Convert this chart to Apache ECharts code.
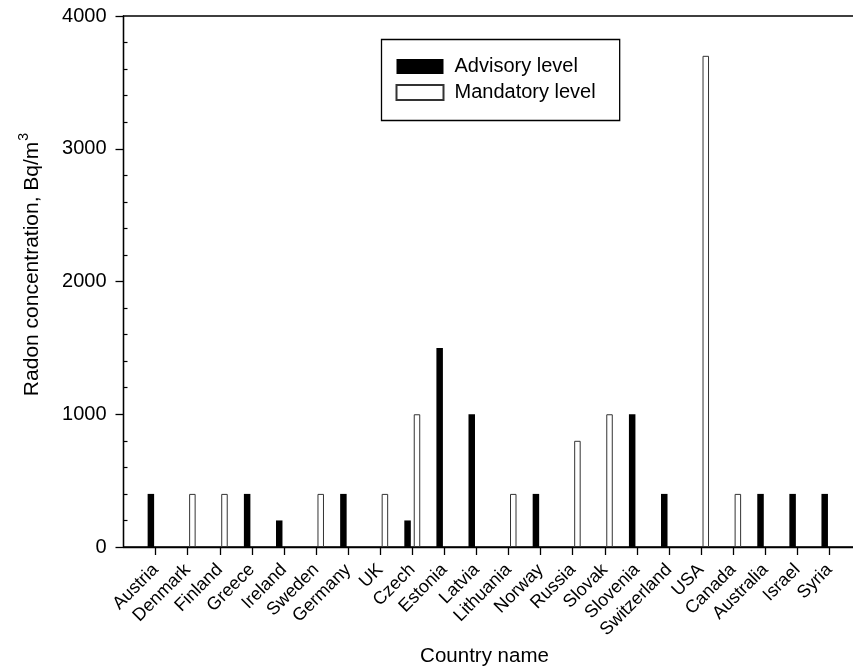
<!DOCTYPE html>
<html>
<head>
<meta charset="utf-8">
<script src="https://cdn.jsdelivr.net/npm/echarts@6/dist/echarts.min.js"></script>
<style>
html,body{margin:0;padding:0;background:#fff;}
#chart{width:853px;height:668px;}
</style>
</head>
<body>
<div id="chart"></div>
<script>
var countries = ['Austria','Denmark','Finland','Greece','Ireland','Sweden','Germany','UK','Czech','Estonia','Latvia','Lithuania','Norway','Russia','Slovak','Slovenia','Switzerland','USA','Canada','Australia','Israel','Syria'];
var advisory  = [400, null, null, 400, 200, null, 400, null, 200, 1500, 1000, null, 400, null, null, 1000, 400, null, null, 400, 400, 400];
var mandatory = [null, 400, 400, null, null, 400, null, 400, 1000, null, null, 400, null, 800, 1000, null, null, 3700, 400, null, null, null];
var yTicks = [0, 1000, 2000, 3000, 4000];

var FONT = '"Liberation Sans", Arial, Helvetica, sans-serif';
// pad with empty slots so the first/last categories sit one step in from the axis ends
var cats = [''].concat(countries, ['']);
var advData = [null].concat(advisory, [null]);
var manData = [null].concat(mandatory, [null]);

var GRID_W = 738;
var chart = echarts.init(document.getElementById('chart'));
chart.setOption({
  animation: false,
  backgroundColor: '#fff',
  textStyle: {fontFamily: FONT, color: '#000'},
  grid: {left: 123.5, top: 16, width: GRID_W, height: 531, outerBoundsMode: 'none', containLabel: false,
         show: true, borderColor: '#000', borderWidth: 1.3, backgroundColor: 'transparent'},
  legend: {
    orient: 'vertical', left: 381.5, top: 39.5,
    borderColor: '#000', borderWidth: 1.3,
    padding: [17, 24, 18, 14],
    itemWidth: 47, itemHeight: 15, itemGap: 6,
    icon: 'rect',
    textStyle: {fontFamily: FONT, fontSize: 20, color: '#000', padding: [0,0,0,6]},
    data: ['Advisory level', 'Mandatory level']
  },
  xAxis: {
    type: 'category', data: cats, boundaryGap: false,
    name: 'Country name', nameLocation: 'middle', nameGap: 98,
    nameTextStyle: {fontFamily: FONT, fontSize: 20.5, color: '#000', padding: [0, 16, 0, 0]},
    axisLine: {lineStyle: {color: '#000', width: 1.3}},
    axisTick: {length: 8, lineStyle: {color: '#000', width: 1.3}, interval: function (i, v) { return v !== ''; }},
    axisLabel: {rotate: 45, margin: 20, fontFamily: FONT, fontSize: 18, color: '#000', interval: 0},
    splitLine: {show: false}
  },
  yAxis: [{
    type: 'value', min: yTicks[0], max: yTicks[yTicks.length - 1], interval: yTicks[1] - yTicks[0],
    name: '{a|Radon concentration, Bq/m}{s|3}', nameLocation: 'middle', nameGap: 77,
    nameTextStyle: {fontFamily: FONT, fontSize: 21, color: '#000', padding: [0, 0, 0, 34],
      rich: {a: {fontFamily: FONT, fontSize: 21, color: '#000'}, s: {fontFamily: FONT, fontSize: 14, color: '#000', padding: [0,0,15,1]}}},
    axisLine: {show: true, lineStyle: {color: '#000', width: 1.3}},
    axisTick: {show: true, length: 8, lineStyle: {color: '#000', width: 1.3}},
    axisLabel: {margin: 17, fontFamily: FONT, fontSize: 20, color: '#000', formatter: function (v) { return String(v); }},
    splitLine: {show: false}
  }, {
    type: 'value', position: 'right', offset: -GRID_W,
    min: yTicks[0], max: yTicks[yTicks.length - 1], interval: yTicks[1] - yTicks[0],
    axisLine: {show: false},
    axisTick: {show: false, inside: false},
    axisLabel: {show: false},
    minorTick: {show: true, splitNumber: 5, length: 4, lineStyle: {color: '#000', width: 1.2}},
    splitLine: {show: false}
  }],
  series: [{
    name: 'Advisory level', type: 'bar', data: advData,
    barWidth: 6.5, barGap: '45%',
    itemStyle: {color: '#000', borderColor: '#000', borderWidth: 0}
  }, {
    name: 'Mandatory level', type: 'bar', data: manData,
    barWidth: 6.5,
    itemStyle: {color: '#fff', borderColor: '#333', borderWidth: 1}
  }]
});
</script>
</body>
</html>
